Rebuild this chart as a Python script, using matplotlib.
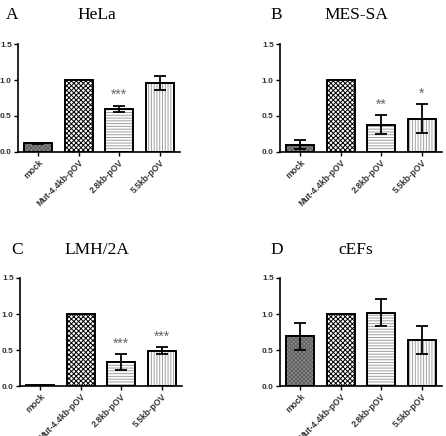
import matplotlib.pyplot as plt
import numpy as np

plt.rcParams["font.family"] = ["Liberation Sans", "DejaVu Sans"]
plt.rcParams["hatch.linewidth"] = 0.7

categories = ["mock", "Mut-4.4kb-pOV", "2.8kb-pOV", "5.5kb-pOV"]

panels = ["A", "B", "C", "D"]
titles = ["HeLa", "MES-SA", "LMH/2A", "cEFs"]

hela_vals = [0.12, 1.0, 0.60, 0.96]
hela_err = [0.01, 0.0, 0.045, 0.095]
hela_stars = ["", "", "***", ""]

messa_vals = [0.10, 1.0, 0.38, 0.46]
messa_err = [0.065, 0.0, 0.13, 0.20]
messa_stars = ["", "", "**", "*"]

lmh_vals = [0.01, 1.0, 0.33, 0.49]
lmh_err = [0.0, 0.0, 0.11, 0.045]
lmh_stars = ["", "", "***", "***"]

cefs_vals = [0.69, 1.0, 1.02, 0.64]
cefs_err = [0.185, 0.0, 0.19, 0.19]
cefs_stars = ["", "", "", ""]

# fill colour, hatch colour, hatch pattern for each bar
styles = [
    ("#8c8c8c", "#5e5e5e", "xxxxxxxx"),
    ("white", "black", "xxxxxxx"),
    ("white", "#a0a0a0", "------"),
    ("white", "#a0a0a0", "||||||"),
]

data = [
    (hela_vals, hela_err, hela_stars),
    (messa_vals, messa_err, messa_stars),
    (lmh_vals, lmh_err, lmh_stars),
    (cefs_vals, cefs_err, cefs_stars),
]

W, H = 446, 436
fig = plt.figure(figsize=(W / 100, H / 100), dpi=100)

# axes boxes in pixels: left, top(=1.5), bottom(=0)
boxes = [(18, 44, 152), (280, 44, 152), (20, 278, 386), (280, 278, 386)]
label_pos = [(6, 15, 97), (270, 15, 356), (11, 250, 97), (270, 250, 356)]

for i, (vals, err, stars) in enumerate(data):
    left, top, bottom = boxes[i]
    ax = fig.add_axes([left / W, 1 - bottom / H, 162 / W, (bottom - top) / H])
    x = np.arange(len(categories))
    for j, v in enumerate(vals):
        fc, hc, hatch = styles[j]
        ax.bar(x[j], v, width=0.68, color=fc, edgecolor=hc, hatch=hatch,
               linewidth=0, zorder=2)
        ax.bar(x[j], v, width=0.68, fill=False, edgecolor="black",
               linewidth=1.4, zorder=3)
        if err[j] > 0:
            ax.errorbar(x[j], v, yerr=err[j], color="black", capsize=4,
                        elinewidth=1.3, capthick=1.3, zorder=4)
        if stars[j]:
            ax.text(x[j], v + err[j] + 0.05, stars[j], ha="center",
                    va="bottom", fontsize=10, color="#666666")
    ax.set_xlim(-0.5, 3.5)
    ax.set_ylim(0, 1.5)
    ax.set_yticks([0.0, 0.5, 1.0, 1.5])
    ax.set_yticklabels(["0.0", "0.5", "1.0", "1.5"], fontsize=6,
                       fontweight="bold", color="#333333")
    ax.set_xticks(x)
    ax.set_xticklabels(categories, rotation=45, ha="right",
                       rotation_mode="anchor", fontsize=6.2,
                       fontweight="bold", color="#333333")
    ax.spines["top"].set_visible(False)
    ax.spines["right"].set_visible(False)
    ax.spines["left"].set_linewidth(1.2)
    ax.spines["bottom"].set_linewidth(1.2)
    ax.tick_params(length=3, width=1.0, pad=1.5)

    lx, ly, tx = label_pos[i]
    fig.text(lx / W, 1 - ly / H, panels[i], fontsize=12.5,
             family="Liberation Serif", va="center", ha="left")
    fig.text(tx / W, 1 - ly / H, titles[i], fontsize=12.5,
             family="Liberation Serif", va="center", ha="center")

fig.savefig("out.png", dpi=100)
